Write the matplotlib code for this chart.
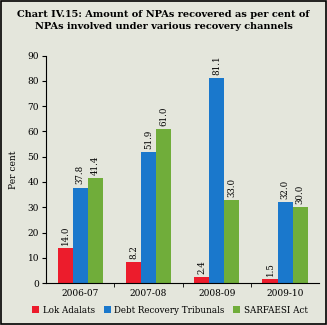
import numpy as np
import matplotlib.pyplot as plt
from matplotlib.patches import Rectangle

# 数据
years = ['2006-07', '2007-08', '2008-09', '2009-10']
lok_adalats = [14.0, 8.2, 2.4, 1.5]
drt = [37.8, 51.9, 81.1, 32.0]
sarfaesi = [41.4, 61.0, 33.0, 30.0]
series_names = ['Lok Adalats', 'Debt Recovery Tribunals', 'SARFAESI Act']
colors = ['#ec1c2c', '#1a78cc', '#70ad3a']

bg = '#e4e6dc'
plt.rcParams['font.family'] = ['DejaVu Serif']

fig = plt.figure(figsize=(3.27, 3.25), dpi=100, facecolor=bg)
ax = fig.add_axes([0.141, 0.129, 0.835, 0.70])
ax.set_facecolor(bg)

x = np.arange(len(years))
w = 0.22
for i, (vals, name, c) in enumerate(zip([lok_adalats, drt, sarfaesi], series_names, colors)):
    pos = x + (i - 1) * w
    bars = ax.bar(pos, vals, w, color=c, label=name)
    for b, v in zip(bars, vals):
        ax.text(b.get_x() + b.get_width() / 2, v + 1.2, f'{v:.1f}', rotation=90,
                ha='center', va='bottom', fontsize=6.2)

ax.set_xlim(-0.5, len(years) - 0.5)
ax.set_ylim(0, 90)
ax.set_yticks(range(0, 91, 10))
ax.set_xticks(x)
ax.set_xticklabels(years, fontsize=6.5)
ax.set_xticks(np.arange(0.5, len(years) - 0.5, 1), minor=True)
ax.tick_params(axis='x', which='major', length=0, pad=4)
ax.tick_params(axis='x', which='minor', length=3, direction='out')
ax.tick_params(axis='y', labelsize=6.5, length=3, pad=2)
for s in ['top', 'right']:
    ax.spines[s].set_visible(False)
ax.set_ylabel('Per cent', fontsize=6.5, labelpad=7)

fig.text(0.5, 0.968, 'Chart IV.15: Amount of NPAs recovered as per cent of\nNPAs involved under various recovery channels',
         ha='center', va='top', fontsize=7, fontweight='bold', linespacing=1.3)

leg = fig.legend(loc='lower center', bbox_to_anchor=(0.52, 0.007), ncol=3, frameon=False,
                 fontsize=6.3, handlelength=0.8, handleheight=0.8, handletextpad=0.4,
                 columnspacing=1.0)

fig.patches.append(Rectangle((0.003, 0.003), 0.994, 0.994, transform=fig.transFigure,
                             fill=False, edgecolor='black', linewidth=1.2))

plt.savefig('out.png', dpi=100, facecolor=bg)
